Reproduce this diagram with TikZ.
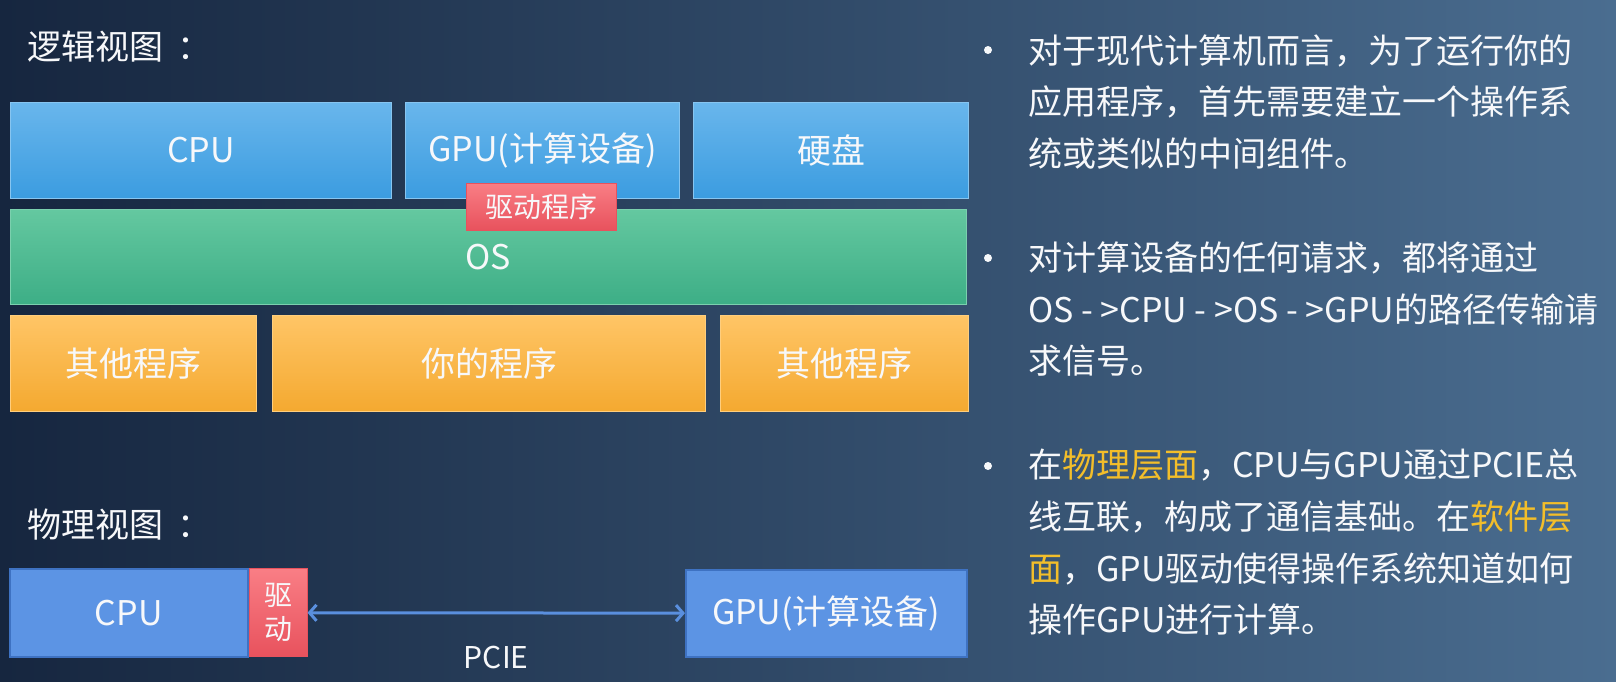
\documentclass[tikz,border=0pt]{standalone}
\usepackage{fontspec}
\usepackage{xcolor}
\usepackage{tikz}
\usetikzlibrary{positioning, arrows.meta}
\newfontfamily\cjk{Noto Sans CJK SC}
\definecolor{bgdark}{HTML}{16263F}
\definecolor{bglight}{HTML}{4A6D90}
\definecolor{txt}{HTML}{F7F8FA}
\definecolor{hl}{HTML}{F3BE2A}
\definecolor{hwtop}{HTML}{69B6EC}
\definecolor{hwbot}{HTML}{3B9CE0}
\definecolor{ostop}{HTML}{64C8A0}
\definecolor{osbot}{HTML}{3DAE86}
\definecolor{apptop}{HTML}{FFC566}
\definecolor{appbot}{HTML}{F4A930}
\definecolor{drvtop}{HTML}{F97E85}
\definecolor{drvbot}{HTML}{E8525D}
\definecolor{phys}{HTML}{5C94E4}
\definecolor{physedge}{HTML}{3E72C2}
\definecolor{link}{HTML}{5A8FDE}
\tikzset{
    x=1pt, y=-1pt,
    >={Straight Barb[length=7pt, width=16pt]},
    every node/.style={text=txt, font=\cjk\fontsize{34}{40}\selectfont},
    layer/.style={inner sep=0pt, line width=1pt},
    hwbox/.style={layer, draw=hwtop!80!white, top color=hwtop, bottom color=hwbot, minimum height=96pt},
    osbox/.style={layer, draw=ostop!85!white, top color=ostop, bottom color=osbot, minimum height=95pt},
    appbox/.style={layer, draw=apptop!85!white, top color=apptop, bottom color=appbot, minimum height=96pt},
    drvbox/.style={layer, draw=drvbot, top color=drvtop, bottom color=drvbot, font=\cjk\fontsize{28}{34}\selectfont},
    physbox/.style={layer, draw=physedge, line width=1.5pt, fill=phys},
    heading/.style={anchor=west, inner sep=0pt},
    bulletdot/.style={circle, fill=txt, inner sep=0pt, minimum size=8pt},
    point/.style={anchor=base west, align=left, inner sep=0pt, font=\cjk\fontsize{34}{51.8}\selectfont},
}

\begin{document}
\begin{tikzpicture}
    \shade[left color=bgdark, right color=bglight] (0,0) rectangle (1616,682);
    \useasboundingbox (0,0) rectangle (1616,682);

    % logical view
    \node[heading] (logic) at (27,47) {逻辑视图\hspace{14pt}：};
    \node[hwbox, minimum width=381pt, anchor=north west] (cpu) at (10,102) {CPU};
    \node[hwbox, minimum width=274pt, right=13pt of cpu] (gpu) {GPU(计算设备)};
    \node[hwbox, minimum width=275pt, right=13pt of gpu] (disk) {硬盘};
    \node[osbox, minimum width=956pt, anchor=north west] (os) at (10,209) {OS};
    \node[appbox, minimum width=246pt, anchor=north west] (other1) at (10,315) {其他程序};
    \node[appbox, minimum width=433pt, right=15pt of other1] (mine) {你的程序};
    \node[appbox, minimum width=248pt, right=14pt of mine] (other2) {其他程序};
    \node[drvbox, minimum width=150pt, minimum height=47pt] (drv) at (541,206.5) {驱动程序};

    % physical view
    \node[heading] (phys) at (27,525) {物理视图\hspace{14pt}：};
    \node[physbox, minimum width=238pt, minimum height=88pt, anchor=north west] (pcpu) at (9,568) {CPU};
    \node[drvbox, minimum width=58pt, minimum height=88pt, right=0pt of pcpu, align=center] (pdrv) {驱\\动};
    \node[physbox, minimum width=281pt, minimum height=87pt, anchor=north west] (pgpu) at (685,569) {GPU(计算设备)};
    \draw[<->, link, line width=3pt] (pdrv) -- (pgpu)
        node[midway, below=28pt, font=\cjk\fontsize{30}{36}\selectfont] (pcie) {PCIE};

    % notes (anchored at the last line)
    \node[bulletdot] (dot1) at (988,50) {};
    \node[point] (note1) at (1028,166.6) {对于现代计算机而言，为了运行你的\\应用程序，首先需要建立一个操作系\\统或类似的中间组件。};
    \node[bulletdot] (dot2) at (988,258) {};
    \node[point] (note2) at (1028,373.8) {对计算设备的任何请求，都将通过\\OS - >CPU - >OS - >GPU的路径传输请\\求信号。};
    \node[bulletdot] (dot3) at (988,466) {};
    \node[point] (note3) at (1028,632.8) {在{\color{hl}物理层面}，CPU与GPU通过PCIE总\\线互联，构成了通信基础。在{\color{hl}软件层}\\{\color{hl}面}，GPU驱动使得操作系统知道如何\\操作GPU进行计算。};
\end{tikzpicture}
\end{document}
